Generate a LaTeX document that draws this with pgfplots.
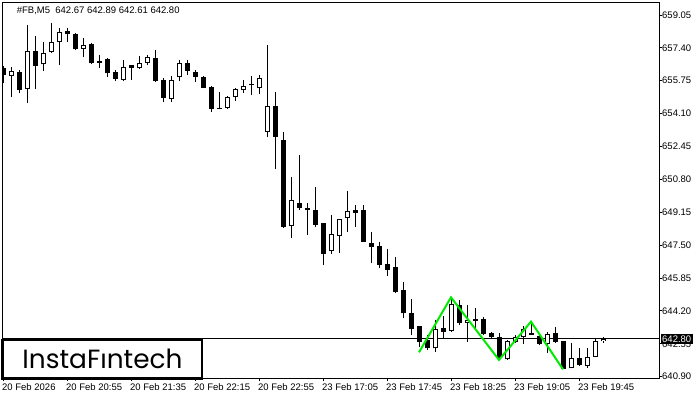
\documentclass[border=0pt]{standalone}
\usepackage{fontspec}
\setmainfont{Liberation Sans}
\newfontfamily\logofont{Poppins}
\usepackage{pgfplots}
\pgfplotsset{compat=1.18}
\usepackage{pgfplotstable}
\newcommand{\lab}{\fontsize{9.5bp}{11bp}\selectfont}

\pgfplotstableread{
i o h l c
0 656.37 656.49 655.62 656.04
2 656.20 656.29 655.12 655.28
4 657.24 658.00 655.32 656.50
8 658.24 658.38 657.71 658.08
9 658.08 658.16 657.29 657.33
11 657.59 657.66 656.57 656.62
12 656.74 657.04 656.37 656.66
13 656.82 656.87 655.95 656.12
14 656.20 656.29 655.74 655.84
16 656.54 656.56 655.79 656.40
19 656.90 657.29 655.70 655.75
20 655.79 655.87 654.70 654.90
23 656.65 656.79 656.04 656.25
24 656.20 656.29 655.70 655.95
25 655.95 655.97 655.37 655.40
26 655.42 655.48 654.20 654.33
27 654.40 655.20 654.32 654.33
31 655.57 655.99 655.03 655.52
34 654.48 655.18 651.34 652.94
35 652.78 653.18 648.36 648.39
37 649.61 652.02 649.25 649.38
38 649.36 649.63 648.02 649.25
39 649.26 650.43 648.39 648.53
40 648.61 648.63 646.50 647.07
44 649.26 649.51 648.43 649.13
45 649.26 649.51 647.67 647.67
46 647.61 648.16 646.60 647.42
47 647.46 647.66 646.34 646.50
48 646.55 647.29 645.95 646.25
49 646.39 646.89 645.11 645.16
50 645.25 645.67 643.83 644.08
51 644.08 644.80 642.99 643.28
52 643.44 643.46 642.40 642.65
53 642.74 642.99 642.24 642.32
55 643.33 643.94 642.82 643.16
57 644.50 644.75 643.49 643.58
59 643.78 644.33 643.33 643.71
60 643.78 643.88 642.99 643.04
61 643.11 643.16 642.86 642.91
62 642.91 643.08 641.74 641.82
66 643.08 643.66 642.99 642.99
67 642.94 642.99 642.49 642.54
69 643.08 643.38 642.60 642.65
70 642.69 642.69 641.27 641.27
72 641.82 642.32 641.43 641.48
}\bear

\pgfplotstableread{
i o h l c
1 656.00 656.45 654.95 656.24
3 655.32 658.55 654.65 657.24
5 656.57 657.71 656.25 657.16
6 657.21 658.63 657.13 657.71
7 657.71 658.38 656.54 658.21
10 657.33 657.88 656.96 657.54
15 655.79 656.79 655.75 656.45
17 656.37 656.99 656.34 656.62
18 656.62 657.04 656.54 656.92
21 654.83 655.99 654.70 655.79
22 655.92 656.79 655.75 656.65
28 654.37 654.98 654.33 654.95
29 654.95 655.37 654.75 655.32
30 655.28 655.79 655.15 655.48
32 655.37 656.04 655.08 655.87
33 653.19 657.54 652.91 654.48
36 648.47 650.93 647.87 649.76
41 647.22 649.01 647.07 648.04
42 647.97 648.83 647.12 648.81
43 648.88 650.22 648.17 649.21
54 642.32 643.74 642.15 643.28
56 643.21 644.83 643.16 644.55
58 643.58 644.50 642.65 643.74
63 641.77 642.74 641.74 642.70
64 642.64 642.99 642.58 642.91
65 642.88 643.44 642.54 643.28
68 642.54 643.16 642.10 643.03
71 641.32 642.58 641.32 641.82
73 641.43 642.32 641.35 641.90
74 641.90 642.83 641.87 642.69
75 642.67 642.89 642.61 642.80
}\bull

\begin{document}
\begin{tikzpicture}[x=1bp,y=1bp]
\path[use as bounding box] (0,0) rectangle (700,400);
\begin{axis}[
  at={(2.7bp,21.7bp)}, anchor=south west,
  width=656.3bp, height=375.6bp, scale only axis,
  xmin=-0.0375, xmax=82, ymin=640.817, ymax=659.665,
  axis line style={line width=1bp},
  xtick={0,8,16,24,32,40,48,56,64,72},
  xticklabels={20 Feb 2026,20 Feb 20:55,20 Feb 21:35,20 Feb 22:15,20 Feb 22:55,23 Feb 17:05,23 Feb 17:45,23 Feb 18:25,23 Feb 19:05,23 Feb 19:45},
  ytick={640.90,642.55,644.20,645.85,647.50,649.15,650.80,652.45,654.10,655.75,657.40,659.05},
  yticklabels={640.90,642.55,644.20,645.85,647.50,649.15,650.80,652.45,654.10,655.75,657.40,659.05},
  xtick pos=left, ytick pos=right, yticklabel pos=right,
  tick align=outside, major tick length=3bp,
  tick style={black, line width=0.8bp},
  xticklabel style={anchor=north west, inner sep=0pt, xshift=-1bp, yshift=-2bp, font=\lab},
  yticklabel style={anchor=west, inner sep=0pt, xshift=0bp, font=\lab},
]
% bid line
\addplot[black, line width=1bp] coordinates {(-1,642.80) (83,642.80)};
% wicks
\addplot[draw=none, mark=none, forget plot, error bars/.cd, y dir=plus, y explicit, error mark=none,
  error bar style={draw=black, line width=1bp}]
  table[x=i, y=l, y error expr=\thisrow{h}-\thisrow{l}] {\bear};
\addplot[draw=none, mark=none, forget plot, error bars/.cd, y dir=plus, y explicit, error mark=none,
  error bar style={draw=black, line width=1bp}]
  table[x=i, y=l, y error expr=\thisrow{h}-\thisrow{l}] {\bull};
% bearish bodies
\addplot[draw=none, mark=none, forget plot, error bars/.cd, y dir=plus, y explicit, error mark=none,
  error bar style={draw=black, line width=5bp}]
  table[x=i, y=c, y error expr=\thisrow{o}-\thisrow{c}] {\bear};
% bullish bodies
\addplot[draw=none, mark=none, forget plot, error bars/.cd, y dir=plus, y explicit, error mark=none,
  error bar style={draw=black, line width=5bp}]
  table[x=i, y=o, y error expr=\thisrow{c}-\thisrow{o}] {\bull};
\addplot[draw=none, mark=none, forget plot, error bars/.cd, y dir=plus, y explicit, error mark=none,
  error bar style={draw=white, line width=3bp, shorten <=1bp, shorten >=1bp}]
  table[x=i, y=o, y error expr=\thisrow{c}-\thisrow{o}] {\bull};
% pattern
\addplot[color={rgb,255:red,0;green,235;blue,0}, line width=2bp] coordinates {(52,642.12) (56,644.88) (62,641.74) (66,643.66) (70,641.27)};
\end{axis}
% price label
\node[fill=black, text=white, anchor=west, inner sep=1.5bp, font=\lab] at (660.5,61.2) {642.80};
% title
\node[anchor=west, inner sep=0pt, font=\lab] at (16.7,389) {\#FB,M5\ \ 642.67 642.89 642.61 642.80};
% logo
\draw[line width=2.5bp, fill=white] (2.7,21.7) rectangle (202,60);
\node[inner sep=0pt] at (102.5,41) {\resizebox{160bp}{!}{\logofont InstaF\i ntech}};
\end{tikzpicture}
\end{document}
